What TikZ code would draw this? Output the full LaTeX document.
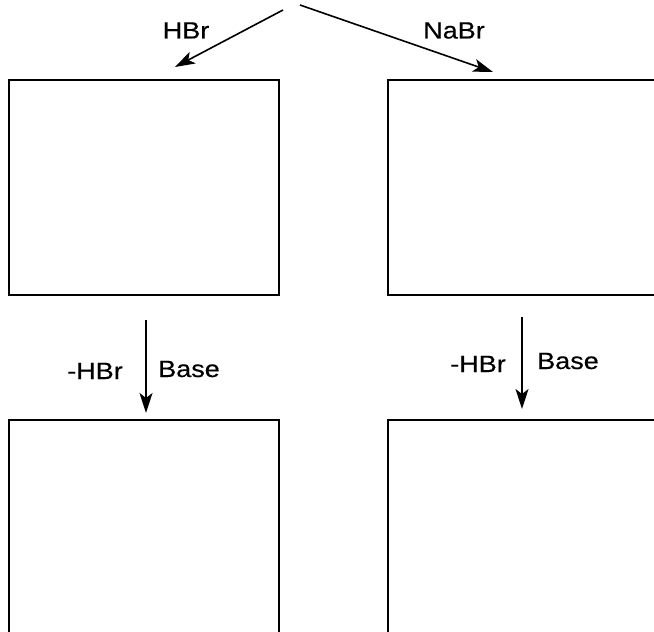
\documentclass[tikz,border=0pt]{standalone}
\usepackage{fontspec}
\setmainfont[FakeStretch=1.15,FakeBold=0.4]{Liberation Sans}
\usetikzlibrary{arrows.meta}
\begin{document}
\begin{tikzpicture}[x=1bp,y=-1bp,
  box/.style={draw,line width=2bp,inner sep=0pt},
  lbl/.style={inner sep=0pt,anchor=base,font=\fontsize{23.5bp}{28bp}\selectfont},
  arr/.style={line width=1.6bp,-{Stealth[length=20bp,width=13bp,inset=5bp]}}]
\useasboundingbox (0,0) rectangle (654,632);
\clip (0,0) rectangle (654,632);
\node[box,minimum width=270bp,minimum height=214.5bp] (tl) at (144,187.75) {};
\node[box,minimum width=280bp,minimum height=214.5bp] (tr) at (528,187.75) {};
\node[box,minimum width=270bp,minimum height=230bp] (bl) at (144,535) {};
\node[box,minimum width=280bp,minimum height=230bp] (br) at (528,535) {};
\coordinate (s1) at (283,10);
\coordinate (e1) at (175,67);
\coordinate (s2) at (300,5);
\coordinate (e2) at (493,72);
\draw[arr] (s1) -- (e1);
\draw[arr] (s2) -- (e2);
\coordinate (a1) at (146,320);
\coordinate (b1) at (146,413);
\coordinate (a2) at (522,317);
\coordinate (b2) at (522,409);
\draw[arr] (a1) -- (b1);
\draw[arr] (a2) -- (b2);
\node[lbl] (hbr) at (186,38.5) {HBr};
\node[lbl] (nabr) at (454,38.5) {NaBr};
\node[lbl] (m1) at (95,379) {-HBr};
\node[lbl] (base1) at (189,377) {Base};
\node[lbl] (m2) at (478,372) {-HBr};
\node[lbl] (base2) at (568,369) {Base};
\end{tikzpicture}
\end{document}
